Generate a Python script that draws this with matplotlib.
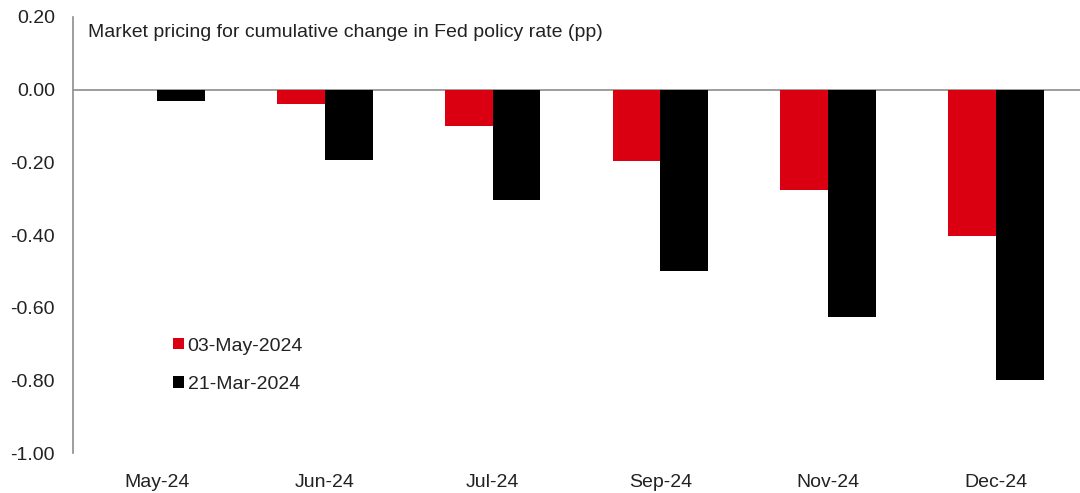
import numpy as np
import matplotlib.pyplot as plt

plt.rcParams['font.family'] = ['Liberation Sans', 'DejaVu Sans']

categories = ["May-24", "Jun-24", "Jul-24", "Sep-24", "Nov-24", "Dec-24"]
may03 = [0.0, -0.04, -0.10, -0.196, -0.275, -0.402]
mar21 = [-0.03, -0.193, -0.305, -0.50, -0.625, -0.80]
series_names = ["03-May-2024", "21-Mar-2024"]

red = '#DB0011'
grey = '#8c8c8c'
txt = '#222222'
fs = 14

fig = plt.figure(figsize=(10.8, 4.93), dpi=100)
ax = fig.add_axes([73 / 1080, 40 / 493, 1007 / 1080, 436 / 493])

x = np.arange(len(categories))
w = 0.285
ax.bar(x - w / 2, may03, w, color=red, label=series_names[0])
ax.bar(x + w / 2, mar21, w, color='black', label=series_names[1])

yt = np.round(np.arange(-1.0, 0.21, 0.2), 2) + 0.0
ax.set_xlim(-0.5, len(categories) - 0.5)
ax.set_ylim(-1.0, 0.2)
ax.set_yticks(yt)
ax.set_yticklabels([f"{v:.2f}".replace("-0.00", "0.00") for v in yt])
ax.set_xticks(x)
ax.set_xticklabels(categories)
ax.tick_params(axis='both', length=0, labelsize=fs, colors=txt)
ax.tick_params(axis='y', pad=13)
ax.tick_params(axis='x', pad=15)

ax.axhline(0, color=grey, lw=1.2, zorder=0)
for s in ['top', 'right', 'bottom']:
    ax.spines[s].set_visible(False)
ax.spines['left'].set_color(grey)
ax.spines['left'].set_linewidth(1.2)

ax.text(15 / 1007, 0.158, "Market pricing for cumulative change in Fed policy rate (pp)",
        transform=ax.get_yaxis_transform(), fontsize=fs, color=txt, va='center')

ax.legend(loc='upper left', bbox_to_anchor=(0.082, 0.305), frameon=False, fontsize=fs,
          handlelength=0.55, handleheight=0.55, handletextpad=0.2, labelspacing=1.1,
          labelcolor=txt)

fig.savefig('out.png', dpi=100)
